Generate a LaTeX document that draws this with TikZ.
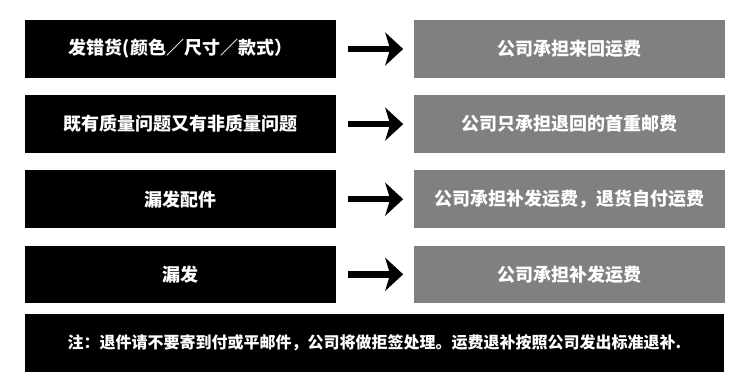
\documentclass[tikz,border=0pt]{standalone}
\usepackage{fontspec}
\newfontfamily\cjk{Noto Sans CJK SC}
\usetikzlibrary{arrows.meta, positioning}
\definecolor{dutygrey}{RGB}{128,128,128}

\begin{document}
\begin{tikzpicture}[
    x=1pt, y=1pt, >={Stealth[length=18pt, width=33pt, inset=5pt]},
    node distance=17.2pt and 78pt
  ]
  \tikzset{
    case/.style={fill=black, text=white, minimum width=311pt,
                 minimum height=57.5pt, inner sep=0pt,
                 font=\cjk\bfseries\fontsize{18}{20}\selectfont},
    duty/.style={case, fill=dutygrey},
    flow/.style={->, line width=6.5pt, shorten <=12pt, shorten >=11pt}
  }
  \useasboundingbox (0,0) rectangle (750,-382);

  \node[case] (c1) at (180.5,-49) {发错货(颜色／尺寸／款式）};
  \node[case, below=of c1] (c2) {既有质量问题又有非质量问题};
  \node[case, below=of c2] (c3) {漏发配件};
  \node[case, below=of c3] (c4) {漏发};

  \node[duty, right=of c1] (d1) {公司承担来回运费};
  \node[duty, right=of c2] (d2) {公司只承担退回的首重邮费};
  \node[duty, right=of c3] (d3) {公司承担补发运费，退货自付运费};
  \node[duty, right=of c4] (d4) {公司承担补发运费};

  \draw[flow] (c1) -- (d1);
  \draw[flow] (c2) -- (d2);
  \draw[flow] (c3) -- (d3);
  \draw[flow] (c4) -- (d4);

  \node[case, minimum width=699pt, minimum height=58pt,
        font=\cjk\bfseries\fontsize{16}{18}\selectfont] (note) at (374.5,-343)
       {注：退件请不要寄到付或平邮件，公司将做拒签处理。运费退补按照公司发出标准退补.};
\end{tikzpicture}
\end{document}
